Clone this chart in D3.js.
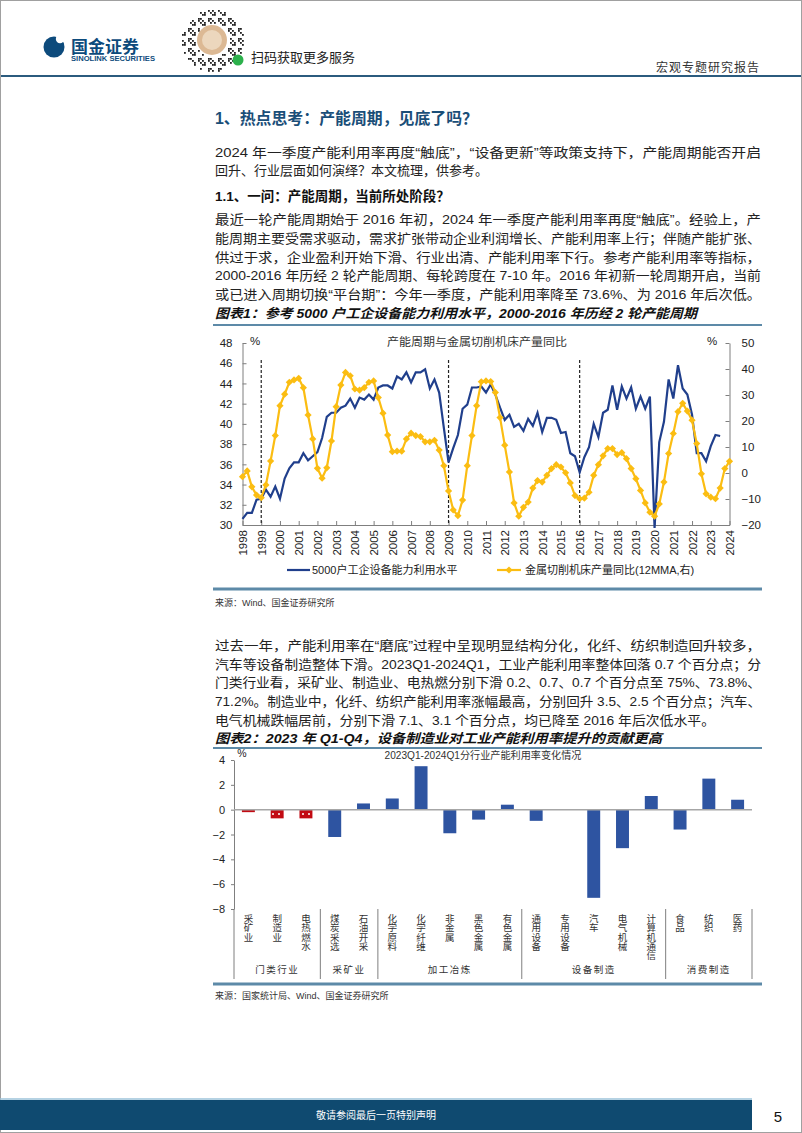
<!DOCTYPE html>
<html lang="zh">
<head>
<meta charset="UTF-8">
<title>产能周期，见底了吗</title>
<style>
  body { margin: 0; background: #fff; }
  svg text { font-family: "Liberation Sans", "Noto Sans CJK SC", sans-serif; }
</style>
</head>
<body>
<svg id="page" width="802" height="1133"></svg>
<script src="https://cdn.jsdelivr.net/npm/d3@7/dist/d3.min.js"></script>
<script>
// ---- 图表1 数据（季度，1998Q1 起）----
const yearLabels = ["1998","1999","2000","2001","2002","2003","2004","2005","2006","2007","2008","2009","2010",
  "2011","2012","2013","2014","2015","2016","2017","2018","2019","2020","2021","2022","2023","2024"];
const leftTicks = [30, 32, 34, 36, 38, 40, 42, 44, 46, 48];
const rightTicks = [-20, -10, 0, 10, 20, 30, 40, 50];
const cycleStarts = [1999, 2009, 2016];
// 5000户工企设备能力利用水平（左轴）
const utilRate = [
  30.6, 31.2, 31.2, 32.5, 32.6, 33.5, 32.8, 33.8, 32.6, 34.6, 35.6, 36.2,
  36.2, 37.1, 36.4, 36.8, 37.2, 38.6, 40.7, 41.1, 41.1, 41.6, 41.8, 42.5,
  41.6, 42.6, 42.4, 42.9, 42.4, 43.6, 43.8, 43.8, 43.5, 44.7, 44.4, 45.1,
  44.1, 45.1, 45.1, 45.4, 43.5, 44.4, 43.1, 39.6, 36.2, 37.6, 38.9, 41.5,
  41.9, 43.6, 43.6, 43.7, 43.1, 43.9, 42.9, 41.6, 40.4, 40.9, 39.7, 40.0,
  39.3, 40.5, 39.8, 41.1, 39.2, 40.6, 40.6, 40.4, 39.1, 39.2, 37.1, 36.8,
  35.2, 36.7, 37.7, 40.0, 38.7, 41.1, 41.4, 43.8, 41.4, 43.7, 42.5, 43.6,
  41.5, 42.7, 41.5, 42.7, 29.7, 38.2, 40.2, 44.4, 42.5, 45.8, 43.5, 42.9,
  40.9, 37.1, 37.1, 36.3, 37.8, 38.9, 38.8
];
// 金属切削机床产量同比(12MMA,右轴)
const toolYoY = [
  -1.4, 0.8, -5.3, -8.5, -9.5, -4.6, 4.6, 14.4, 25.9, 30.3, 34.9, 35.8,
  36.4, 32.8, 22.3, 13.1, 1.8, -2.0, 2.0, 12.3, 25.5, 33.8, 38.7, 37.4,
  32.3, 31.9, 32.8, 34.9, 35.4, 29.0, 23.0, 14.6, 8.2, 8.4, 8.4, 13.1,
  15.3, 14.4, 14.0, 12.0, 12.0, 12.6, 8.8, 2.8, -6.9, -14.2, -16.4, -10.4,
  2.8, 14.4, 25.9, 35.1, 35.4, 35.2, 31.0, 21.3, 10.7, 0.4, -11.5, -16.6,
  -13.2, -11.2, -5.8, -2.9, -3.5, -0.9, 1.7, 3.2, 2.3, 0.1, -3.8, -8.7,
  -9.9, -9.7, -7.4, -0.9, 3.2, 6.6, 9.4, 9.4, 7.1, 7.8, 5.5, 1.7,
  -2.2, -6.7, -11.5, -15.1, -16.6, -11.9, -3.5, 7.5, 15.2, 23.6, 26.8, 23.8,
  20.3, 11.3, -0.3, -8.0, -9.3, -9.9, -5.8, 1.7, 4.5
];

// ---- 图表2 数据 ----
const industries = ["采矿业","制造业","电热燃水","煤炭采选","石油开采","化学原料","化学纤维","非金属","黑色金属",
  "有色金属","通用设备","专用设备","汽车","电气机械","计算机通信","食品","纺织","医药"];
const changes = [-0.2, -0.7, -0.7, -2.2, 0.5, 0.9, 3.5, -1.9, -0.8, 0.4, -0.9, 0.05, -7.1, -3.1, 1.1, -1.6, 2.5, 0.8];
const groupNames = ["门类行业", "采矿业", "加工冶炼", "设备制造", "消费制造"];
const groupSizes = [3, 2, 5, 5, 3];
const barTicks = [-8, -6, -4, -2, 0, 2, 4];

const svg = d3.select("#page");
const LEFT = 215, RIGHT = 761;

function txt(x, y, s, o) {
  o = o || {};
  const t = svg.append("text").attr("x", x).attr("y", y).text(s)
    .attr("font-size", o.size || 13).attr("fill", o.fill || "#222");
  if (o.weight) t.attr("font-weight", o.weight);
  if (o.italic) t.attr("font-style", "italic");
  if (o.anchor) t.attr("text-anchor", o.anchor);
  if (o.len) t.attr("textLength", o.len).attr("lengthAdjust", "spacingAndGlyphs");
  if (o.ls) t.attr("letter-spacing", o.ls);
  return t;
}

// ---- page frame / header ----
svg.append("rect").attr("x", 0.5).attr("y", 0.5).attr("width", 801).attr("height", 1132)
  .attr("fill", "none").attr("stroke", "#a0a0a0");
svg.append("circle").attr("cx", 54).attr("cy", 47).attr("r", 10.5).attr("fill", "#0d4b7c");
svg.append("circle").attr("cx", 60).attr("cy", 39).attr("r", 4.2).attr("fill", "#fff");
txt(71, 53, "国金证券", { size: 16.5, weight: "bold", fill: "#0d4b7c", len: 68 });
txt(71, 61, "SINOLINK SECURITIES", { size: 7, weight: "bold", fill: "#0d4b7c", len: 84 });

// 小程序码（示意）
const qr = svg.append("g").attr("transform", "translate(212,40)");
for (let i = -16; i <= 16; i++) {
  for (let j = -16; j <= 16; j++) {
    const r = Math.hypot(i, j) * 2;
    if (r < 17 || r > 31) continue;
    if (((i * 7 + j * 13 + i * j) % 5 + 5) % 5 < 2) {
      qr.append("rect").attr("x", i * 2).attr("y", j * 2).attr("width", 1.8).attr("height", 1.8).attr("fill", "#222");
    }
  }
}
qr.append("circle").attr("r", 15).attr("fill", "#dcb994");
qr.append("circle").attr("r", 10).attr("fill", "#ecd7bd");
qr.append("circle").attr("cx", 26).attr("cy", 20).attr("r", 5.5).attr("fill", "#2cb14c");
txt(251, 62, "扫码获取更多服务", { size: 13, fill: "#222" });
txt(760, 72, "宏观专题研究报告", { size: 12, fill: "#333", anchor: "end", ls: 1 });
svg.append("line").attr("x1", 1).attr("x2", 801).attr("y1", 76).attr("y2", 76)
  .attr("stroke", "#2b5b7e").attr("stroke-width", 2);

// ---- body text ----
txt(LEFT, 124, "1、热点思考：产能周期，见底了吗？", { size: 16, weight: "bold", fill: "#1a4e78", len: 263 });
txt(LEFT, 157, "2024 年一季度产能利用率再度“触底”，“设备更新”等政策支持下，产能周期能否开启", { len: RIGHT - LEFT });
txt(LEFT, 175, "回升、行业层面如何演绎？本文梳理，供参考。");
txt(LEFT, 201, "1.1、一问：产能周期，当前所处阶段？", { size: 13.5, weight: "bold", fill: "#111" });
const p2 = [
  "最近一轮产能周期始于 2016 年初，2024 年一季度产能利用率再度“触底”。经验上，产",
  "能周期主要受需求驱动，需求扩张带动企业利润增长、产能利用率上行；伴随产能扩张、",
  "供过于求，企业盈利开始下滑、行业出清、产能利用率下行。参考产能利用率等指标，",
  "2000-2016 年历经 2 轮产能周期、每轮跨度在 7-10 年。2016 年初新一轮周期开启，当前",
  "或已进入周期切换“平台期”：今年一季度，产能利用率降至 73.6%、为 2016 年后次低。"
];
p2.forEach((s, i) => txt(LEFT, 224 + i * 18.8, s, { len: RIGHT - LEFT }));

txt(LEFT, 318, "图表1：参考 5000 户工企设备能力利用水平，2000-2016 年历经 2 轮产能周期",
  { size: 13, weight: "bold", italic: true, fill: "#111", len: 482 });
svg.append("line").attr("x1", 213).attr("x2", 762).attr("y1", 325).attr("y2", 325)
  .attr("stroke", "#5d8aa8").attr("stroke-width", 2);

// ---- 图表1 ----
const x1 = d3.scaleLinear().domain([1998, 2024]).range([242.5, 729.5]);
const yL = d3.scaleLinear().domain([30, 48]).range([525, 343]);
const yR = d3.scaleLinear().domain([-20, 50]).range([525, 343]);
const tq = i => 1998 + i / 4;

const c1 = svg.append("g");
function styleAxis(g) {
  g.selectAll(".domain").attr("stroke", "#7f7f7f");
  g.selectAll(".tick line").attr("stroke", "#7f7f7f");
  g.selectAll("text").attr("fill", "#222").attr("font-family", "Liberation Sans, sans-serif");
}
c1.append("g").attr("transform", "translate(242.5,0)")
  .call(d3.axisLeft(yL).tickValues(leftTicks).tickSizeInner(-4).tickSizeOuter(0).tickPadding(10))
  .call(styleAxis).selectAll("text").attr("font-size", 11.5);
c1.append("g").attr("transform", "translate(729.5,0)")
  .call(d3.axisRight(yR).tickValues(rightTicks).tickSizeInner(-4).tickSizeOuter(0).tickPadding(12))
  .call(styleAxis).selectAll("text").attr("font-size", 11.5);
const xa = c1.append("g").attr("transform", "translate(0,525)")
  .call(d3.axisBottom(x1).tickValues(yearLabels.map(Number)).tickFormat((d, i) => yearLabels[i])
    .tickSizeInner(-4).tickSizeOuter(0))
  .call(styleAxis);
xa.selectAll("text").attr("font-size", 11.5).attr("transform", "rotate(-90)")
  .attr("x", -5).attr("y", 0).attr("dy", "0.35em").attr("text-anchor", "end");

c1.selectAll(".cyc").data(cycleStarts).enter().append("line")
  .attr("x1", d => x1(d)).attr("x2", d => x1(d)).attr("y1", 360).attr("y2", 525)
  .attr("stroke", "#222").attr("stroke-width", 1.2).attr("stroke-dasharray", "3,2");

c1.append("path").datum(utilRate)
  .attr("d", d3.line().x((d, i) => x1(tq(i))).y(d => yL(d)))
  .attr("fill", "none").attr("stroke", "#203f8c").attr("stroke-width", 2.2);
c1.append("path").datum(toolYoY)
  .attr("d", d3.line().x((d, i) => x1(tq(i))).y(d => yR(d)))
  .attr("fill", "none").attr("stroke", "#fbbd12").attr("stroke-width", 2.2);
const diamond = "M0,-3.6L3.6,0L0,3.6L-3.6,0Z";
c1.selectAll(".mk").data(toolYoY).enter().append("path")
  .attr("d", diamond).attr("fill", "#fbbd12")
  .attr("transform", (d, i) => `translate(${x1(tq(i))},${yR(d)})`);

txt(477, 346, "产能周期与金属切削机床产量同比", { size: 11, fill: "#333", anchor: "middle", len: 180 });
txt(255, 345, "%", { size: 11.5, fill: "#222", anchor: "middle" });
txt(712, 345, "%", { size: 11.5, fill: "#222", anchor: "middle" });

// legend
svg.append("line").attr("x1", 287).attr("x2", 310).attr("y1", 570).attr("y2", 570)
  .attr("stroke", "#203f8c").attr("stroke-width", 2.2);
txt(312, 574, "5000户工企设备能力利用水平", { size: 11, fill: "#222" });
svg.append("line").attr("x1", 497).attr("x2", 521).attr("y1", 570).attr("y2", 570)
  .attr("stroke", "#fbbd12").attr("stroke-width", 2.2);
svg.append("path").attr("d", diamond).attr("fill", "#fbbd12").attr("transform", "translate(509,570)");
txt(525, 574, "金属切削机床产量同比(12MMA,右)", { size: 11, fill: "#222" });

svg.append("line").attr("x1", 213).attr("x2", 762).attr("y1", 589).attr("y2", 589)
  .attr("stroke", "#5d8aa8").attr("stroke-width", 3);
txt(LEFT, 606, "来源：Wind、国金证券研究所", { size: 9, fill: "#333" });

// ---- 第三段 ----
const p3 = [
  "过去一年，产能利用率在“磨底”过程中呈现明显结构分化，化纤、纺织制造回升较多，",
  "汽车等设备制造整体下滑。2023Q1-2024Q1，工业产能利用率整体回落 0.7 个百分点；分",
  "门类行业看，采矿业、制造业、电热燃分别下滑 0.2、0.7、0.7 个百分点至 75%、73.8%、",
  "71.2%。制造业中，化纤、纺织产能利用率涨幅最高，分别回升 3.5、2.5 个百分点；汽车、"
];
p3.forEach((s, i) => txt(LEFT, 650 + i * 18.7, s, { len: RIGHT - LEFT }));
txt(LEFT, 725, "电气机械跌幅居前，分别下滑 7.1、3.1 个百分点，均已降至 2016 年后次低水平。", { len: 500 });

txt(LEFT, 743, "图表2：2023 年 Q1-Q4，设备制造业对工业产能利用率提升的贡献更高",
  { size: 13, weight: "bold", italic: true, fill: "#111", len: 447 });
svg.append("line").attr("x1", 213).attr("x2", 762).attr("y1", 748).attr("y2", 748)
  .attr("stroke", "#5d8aa8").attr("stroke-width", 2);

// ---- 图表2 ----
const x2 = d3.scaleBand().domain(industries).range([234, 752]).paddingInner(0.55).paddingOuter(0.275);
const y2 = d3.scaleLinear().domain([-8, 4]).range([909, 760]);
const c2 = svg.append("g");

const defs = svg.append("defs");
const pat = defs.append("pattern").attr("id", "reddot").attr("patternUnits", "userSpaceOnUse")
  .attr("width", 6).attr("height", 6);
pat.append("rect").attr("width", 6).attr("height", 6).attr("fill", "#c20a12");
pat.append("circle").attr("cx", 3).attr("cy", 4).attr("r", 1).attr("fill", "#fff");

c2.append("g").attr("transform", "translate(234,0)")
  .call(d3.axisLeft(y2).tickValues(barTicks).tickSizeInner(3).tickSizeOuter(0).tickPadding(6))
  .call(styleAxis).selectAll("text").attr("font-size", 11);

c2.selectAll(".bar").data(industries).enter().append("rect")
  .attr("x", d => x2(d)).attr("width", x2.bandwidth())
  .attr("y", (d, i) => y2(Math.max(0, changes[i])))
  .attr("height", (d, i) => Math.abs(y2(changes[i]) - y2(0)))
  .attr("fill", (d, i) => i < groupSizes[0] ? "url(#reddot)" : "#2e54a1");
c2.append("line").attr("x1", 234).attr("x2", 752).attr("y1", y2(0)).attr("y2", y2(0))
  .attr("stroke", "#a6a6a6").attr("stroke-width", 1.5);

// category labels (vertical)
industries.forEach(name => {
  const cx = x2(name) + x2.bandwidth() / 2;
  [...name].forEach((ch, j) => {
    txt(cx, 922 + j * 9.3, ch, { size: 9.5, fill: "#333", anchor: "middle" });
  });
});
// group separators and names
const step = x2.step();
let start = 0;
const bounds = [234];
groupSizes.forEach(n => { start += n; bounds.push(234 + step * start); });
bounds.forEach(b => {
  c2.append("line").attr("x1", b).attr("x2", b).attr("y1", 909).attr("y2", 979)
    .attr("stroke", "#7f7f7f").attr("stroke-width", 1);
});
groupNames.forEach((g, i) => {
  txt((bounds[i] + bounds[i + 1]) / 2, 973, g, { size: 9.5, fill: "#333", anchor: "middle", ls: 1.5 });
});

txt(483, 759, "2023Q1-2024Q1分行业产能利用率变化情况", { size: 10.5, fill: "#333", anchor: "middle", len: 197 });
txt(242, 757, "%", { size: 10.5, fill: "#222", anchor: "middle" });

svg.append("line").attr("x1", 213).attr("x2", 762).attr("y1", 984).attr("y2", 984)
  .attr("stroke", "#5d8aa8").attr("stroke-width", 3);
txt(LEFT, 999, "来源：国家统计局、Wind、国金证券研究所", { size: 9, fill: "#333" });

// ---- footer ----
svg.append("line").attr("x1", 0).attr("x2", 752).attr("y1", 1099).attr("y2", 1099)
  .attr("stroke", "#9cc3da").attr("stroke-width", 1.5);
svg.append("rect").attr("x", 0).attr("y", 1100).attr("width", 752).attr("height", 30).attr("fill", "#0f4a70");
txt(376, 1119, "敬请参阅最后一页特别声明", { size: 10, fill: "#fff", anchor: "middle" });
txt(778, 1122, "5", { size: 15, fill: "#111", anchor: "middle" });
</script>
</body>
</html>
